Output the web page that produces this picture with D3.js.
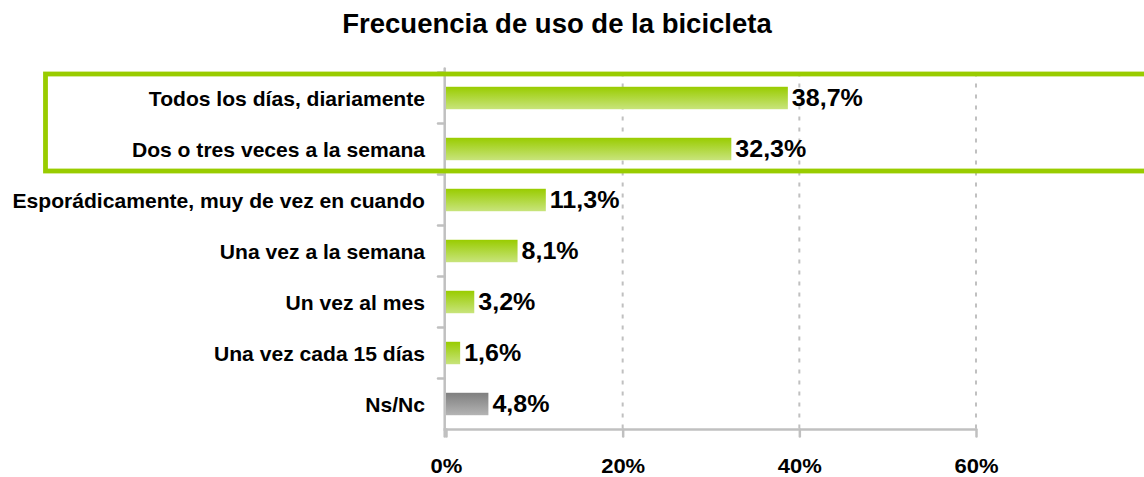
<!DOCTYPE html>
<html>
<head>
<meta charset="utf-8">
<script src="https://cdn.jsdelivr.net/npm/d3@7"></script>
<style>
  html, body { margin: 0; padding: 0; background: #ffffff; }
  svg { display: block; font-family: "Liberation Sans", Arial, sans-serif; }
</style>
</head>
<body>
<svg id="chart" width="1144" height="477"></svg>
<script>
// Frecuencia de uso de la bicicleta (% de respuestas)
const categories = [
  "Todos los días, diariamente",
  "Dos o tres veces a la semana",
  "Esporádicamente, muy de vez en cuando",
  "Una vez a la semana",
  "Un vez al mes",
  "Una vez cada 15 días",
  "Ns/Nc"
];
const values = [38.7, 32.3, 11.3, 8.1, 3.2, 1.6, 4.8];
const valueLabels = ["38,7%", "32,3%", "11,3%", "8,1%", "3,2%", "1,6%", "4,8%"];
const xTicks = [0, 20, 40, 60];
const highlightedRows = ["Todos los días, diariamente", "Dos o tres veces a la semana"];
const chartTitle = "Frecuencia de uso de la bicicleta";

const svg = d3.select("#chart");

const plot = { left: 446, right: 976, top: 72.5, bottom: 429.5 };
const axisColor = "#c0c0c0";

const x = d3.scaleLinear().domain([0, 60]).range([plot.left, plot.right]);
const y = d3.scaleBand()
  .domain(categories)
  .range([plot.top, plot.bottom])
  .paddingInner(0.56)
  .paddingOuter(0.28);

// gradients for the bars
const defs = svg.append("defs");
function vGrad(id, top, bottom) {
  const g = defs.append("linearGradient").attr("id", id)
    .attr("x1", 0).attr("y1", 0).attr("x2", 0).attr("y2", 1);
  g.append("stop").attr("offset", "0%").attr("stop-color", top);
  g.append("stop").attr("offset", "100%").attr("stop-color", bottom);
}
vGrad("gGreen", "#99cc00", "#c8e47c");
vGrad("gGrey", "#7f7f7f", "#b4b4b4");

// title
svg.append("text")
  .attr("x", 557).attr("y", 33.3)
  .attr("text-anchor", "middle")
  .attr("font-size", 27.5)
  .attr("font-weight", "bold")
  .attr("fill", "#000")
  .text(chartTitle);

// vertical dashed gridlines
svg.append("g").selectAll("line")
  .data(xTicks.filter(t => t > 0))
  .join("line")
  .attr("x1", d => x(d)).attr("x2", d => x(d))
  .attr("y1", plot.top).attr("y2", plot.bottom)
  .attr("stroke", axisColor)
  .attr("stroke-width", 2)
  .attr("stroke-dasharray", "4,7");

// bars
svg.append("g").selectAll("rect")
  .data(categories)
  .join("rect")
  .attr("x", x(0))
  .attr("y", d => y(d))
  .attr("width", (d, i) => x(values[i]) - x(0))
  .attr("height", y.bandwidth())
  .attr("fill", d => d === "Ns/Nc" ? "url(#gGrey)" : "url(#gGreen)");

// bottom axis
const xAxis = d3.axisBottom(x)
  .tickValues(xTicks)
  .tickSize(7)
  .tickPadding(22)
  .tickFormat(d => d + "%");
const gx = svg.append("g")
  .attr("transform", `translate(0,${plot.bottom})`)
  .call(xAxis);
gx.select(".domain").remove();
gx.append("line")
  .attr("x1", plot.left - 2.5).attr("x2", plot.right + 1)
  .attr("y1", 0).attr("y2", 0)
  .attr("stroke", axisColor).attr("stroke-width", 2.5);
gx.selectAll(".tick line")
  .attr("stroke", axisColor).attr("stroke-width", 2.5)
  .attr("stroke-linecap", "round");
gx.selectAll(".tick text")
  .attr("font-family", "Liberation Sans, Arial, sans-serif")
  .attr("font-size", 20)
  .attr("font-weight", "bold")
  .attr("fill", "#000")
  .attr("transform", "scale(1.1,1)");

// left axis line with ticks on the band boundaries
const boundaries = categories.map(c => y(c) - (y.step() - y.bandwidth()) / 2);
boundaries.push(plot.bottom);
const gy = svg.append("g");
gy.append("line")
  .attr("x1", plot.left - 1.3).attr("x2", plot.left - 1.3)
  .attr("y1", plot.top - 4).attr("y2", plot.bottom + 7)
  .attr("stroke", axisColor).attr("stroke-width", 2.5)
  .attr("stroke-linecap", "round");
gy.selectAll("line.tk")
  .data(boundaries.slice(0, -1))
  .join("line").attr("class", "tk")
  .attr("x1", plot.left - 8).attr("x2", plot.left - 1.3)
  .attr("y1", d => d).attr("y2", d => d)
  .attr("stroke", axisColor).attr("stroke-width", 2.5)
  .attr("stroke-linecap", "round");

// category labels
svg.append("g").selectAll("text")
  .data(categories)
  .join("text")
  .attr("transform", d => `translate(425,${y(d) + y.bandwidth() / 2 + 7.5}) scale(1.055,1)`)
  .attr("text-anchor", "end")
  .attr("font-size", 20)
  .attr("font-weight", "bold")
  .attr("fill", "#000")
  .text(d => d);

// value labels
svg.append("g").selectAll("text")
  .data(categories)
  .join("text")
  .attr("transform", (d, i) => `translate(${x(values[i]) + 4},${y(d) + y.bandwidth() / 2 + 8.3}) scale(1.075,1)`)
  .attr("font-size", 23.3)
  .attr("font-weight", "bold")
  .attr("fill", "#000")
  .text((d, i) => valueLabels[i]);

// frame around the daily / weekly-frequent rows
const hTop = y(highlightedRows[0]) - (y.step() - y.bandwidth()) / 2 + 1.5;
const hBottom = y(highlightedRows[highlightedRows.length - 1]) + y.bandwidth() + (y.step() - y.bandwidth()) / 2 - 3.5;
svg.append("rect")
  .attr("x", 45.5).attr("y", hTop)
  .attr("width", 1130).attr("height", hBottom - hTop)
  .attr("fill", "none")
  .attr("stroke", "#99cc00")
  .attr("stroke-width", 4.8);
</script>
</body>
</html>
